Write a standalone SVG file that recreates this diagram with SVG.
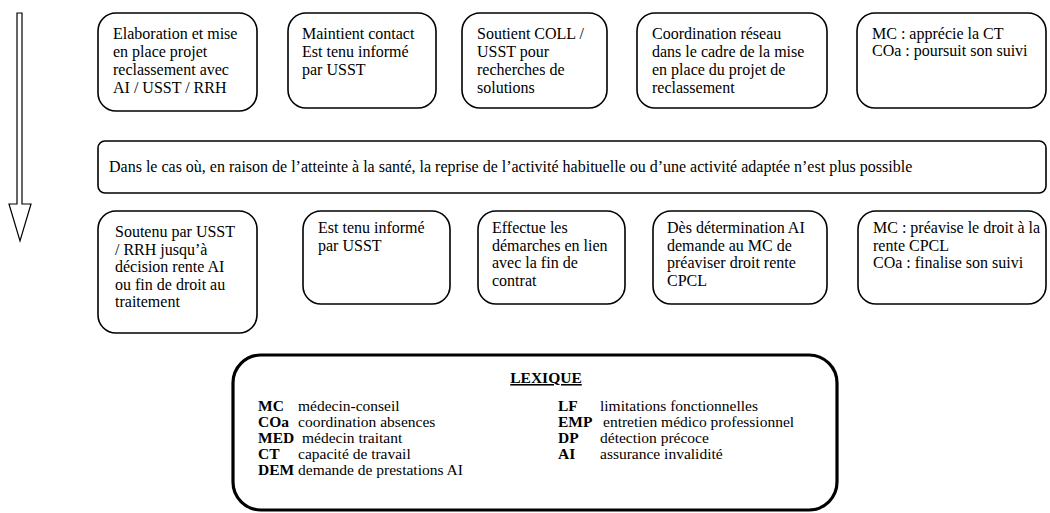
<svg xmlns="http://www.w3.org/2000/svg" width="1050" height="513" viewBox="0 0 1050 513">
  <style>
    .box { fill: #ffffff; stroke: #000000; stroke-width: 1.6; }
    .lex { fill: #ffffff; stroke: #000000; stroke-width: 3.2; }
    .t { font-size: 16px; fill: #000000; }
    .l { font-size: 15.5px; fill: #000000; }
    .b { font-weight: bold; }
  </style>
  <rect width="1050" height="513" fill="#ffffff"/>

  <!-- timeline arrow -->
  <g id="connectors">
    <polygon points="17,13 22,13 22,204 31,204 20,241 9,204 17,204" fill="#ffffff" stroke="#000000" stroke-width="1.2" stroke-linejoin="miter"/>
  </g>

  <g font-family="'Liberation Serif', 'DejaVu Serif', 'Times New Roman', Times, serif">
  <!-- first phase -->
  <g id="n-top-1">
    <rect class="box" x="98" y="13" width="159" height="98" rx="18"/>
    <text class="t" x="113" y="39">Elaboration et mise<tspan x="113" dy="18">en place projet</tspan><tspan x="113" dy="18">reclassement avec</tspan><tspan x="113" dy="18">AI / USST / RRH</tspan></text>
  </g>
  <g id="n-top-2">
    <rect class="box" x="288" y="13" width="148" height="95" rx="18"/>
    <text class="t" x="302" y="38.5">Maintient contact<tspan x="302" dy="18">Est tenu informé</tspan><tspan x="302" dy="18">par USST</tspan></text>
  </g>
  <g id="n-top-3">
    <rect class="box" x="462" y="13" width="145" height="95" rx="18"/>
    <text class="t" x="477" y="38.5">Soutient COLL /<tspan x="477" dy="18">USST pour</tspan><tspan x="477" dy="18">recherches de</tspan><tspan x="477" dy="18">solutions</tspan></text>
  </g>
  <g id="n-top-4">
    <rect class="box" x="637" y="13" width="190" height="95" rx="18"/>
    <text class="t" x="652" y="38.5">Coordination réseau<tspan x="652" dy="18">dans le cadre de la mise</tspan><tspan x="652" dy="18">en place du projet de</tspan><tspan x="652" dy="18">reclassement</tspan></text>
  </g>
  <g id="n-top-5">
    <rect class="box" x="857" y="13" width="189" height="95" rx="18"/>
    <text class="t" x="872" y="38.5">MC : apprécie la CT<tspan x="872" dy="17.5">COa : poursuit son suivi</tspan></text>
  </g>

  <!-- condition -->
  <g id="n-condition">
    <rect class="box" x="98" y="141" width="948" height="52" rx="7"/>
    <text class="t" x="109" y="172" font-size="15.8">Dans le cas où, en raison de l’atteinte à la santé, la reprise de l’activité habituelle ou d’une activité adaptée n’est plus possible</text>
  </g>

  <!-- second phase -->
  <g id="n-bottom-1">
    <rect class="box" x="98" y="211" width="159" height="122" rx="18"/>
    <text class="t" x="115" y="237">Soutenu par USST<tspan x="115" dy="17.5">/ RRH jusqu’à</tspan><tspan x="115" dy="17.5">décision rente AI</tspan><tspan x="115" dy="17.5">ou fin de droit au</tspan><tspan x="115" dy="17.5">traitement</tspan></text>
  </g>
  <g id="n-bottom-2">
    <rect class="box" x="303" y="211" width="147" height="93" rx="18"/>
    <text class="t" x="318" y="233">Est tenu informé<tspan x="318" dy="17.5">par USST</tspan></text>
  </g>
  <g id="n-bottom-3">
    <rect class="box" x="478" y="211" width="147" height="93" rx="18"/>
    <text class="t" x="492" y="233">Effectue les<tspan x="492" dy="17.5">démarches en lien</tspan><tspan x="492" dy="17.5">avec la fin de</tspan><tspan x="492" dy="17.5">contrat</tspan></text>
  </g>
  <g id="n-bottom-4">
    <rect class="box" x="653" y="211" width="174" height="93" rx="18"/>
    <text class="t" x="667" y="233">Dès détermination AI<tspan x="667" dy="17.5">demande au MC de</tspan><tspan x="667" dy="17.5">préaviser droit rente</tspan><tspan x="667" dy="17.5">CPCL</tspan></text>
  </g>
  <g id="n-bottom-5">
    <rect class="box" x="858" y="211" width="188" height="93" rx="18"/>
    <text class="t" x="873" y="233">MC : préavise le droit à la<tspan x="873" dy="17.5">rente CPCL</tspan><tspan x="873" dy="17.5">COa : finalise son suivi</tspan></text>
  </g>

  <!-- glossary -->
  <g id="n-lexique">
    <rect class="lex" x="233" y="355" width="604" height="155" rx="28"/>
    <text class="l b" x="546" y="383" text-anchor="middle" text-decoration="underline">LEXIQUE</text>
    <text class="l b" x="258" y="411">MC<tspan x="258" dy="16">COa</tspan><tspan x="258" dy="16">MED</tspan><tspan x="258" dy="16">CT</tspan><tspan x="258" dy="16">DEM</tspan></text>
    <text class="l" x="298" y="411">médecin-conseil<tspan x="298" dy="16">coordination absences</tspan><tspan x="302" dy="16">médecin traitant</tspan><tspan x="298" dy="16">capacité de travail</tspan><tspan x="298" dy="16">demande de prestations AI</tspan></text>
    <text class="l b" x="558" y="411">LF<tspan x="558" dy="16">EMP</tspan><tspan x="558" dy="16">DP</tspan><tspan x="558" dy="16">AI</tspan></text>
    <text class="l" x="600" y="411">limitations fonctionnelles<tspan x="603" dy="16">entretien médico professionnel</tspan><tspan x="600" dy="16">détection précoce</tspan><tspan x="600" dy="16">assurance invalidité</tspan></text>
  </g>
  </g>
</svg>
